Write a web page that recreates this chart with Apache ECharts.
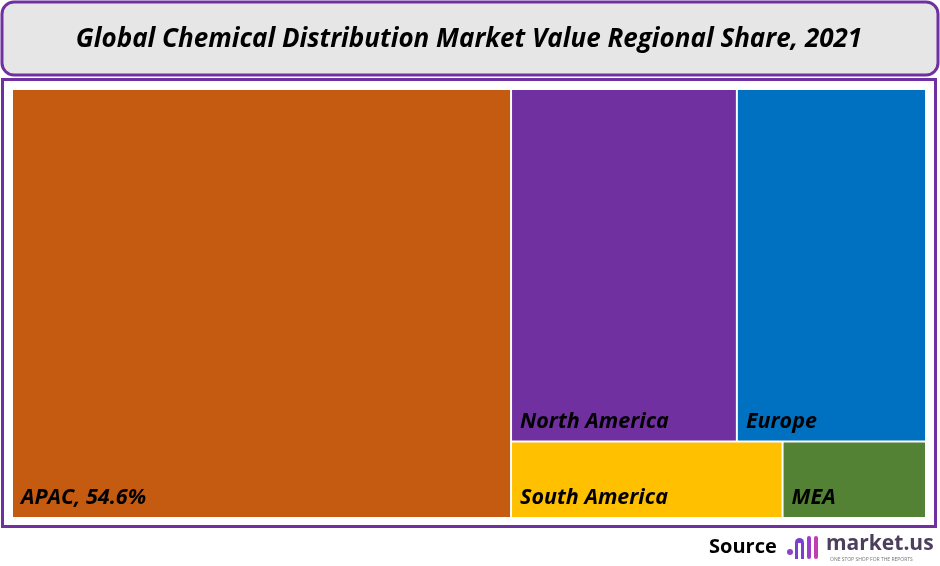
<!DOCTYPE html>
<html><head><meta charset="utf-8">
<script src="https://cdn.jsdelivr.net/npm/echarts@6/dist/echarts.min.js"></script>
<style>html,body{margin:0;padding:0;background:#fff}#c{width:940px;height:566px}</style>
</head><body><div id="c"></div>
<script>
const regions = ['APAC', 'North America', 'Europe', 'South America', 'MEA'];
const shares = [54.6, 20.3, 17.0, 5.3, 2.8];
const colors = ['#C55A11', '#7030A0', '#0070C0', '#FFC000', '#548235'];
const titleText = 'Global Chemical Distribution Market Value Regional Share, 2021';

const chart = echarts.init(document.getElementById('c'), null, {renderer: 'canvas'});
const data = regions.map((r, i) => ({
  name: r, value: shares[i],
  itemStyle: {color: colors[i]},
  label: {formatter: i === 0 ? r + ', ' + shares[i] + '%' : r}
}));
chart.setOption({
  animation: false,
  graphic: [
    {type: 'rect', z: 0, shape: {x: 2, y: 2, width: 936, height: 73, r: 12},
     style: {fill: '#E7E6E6', stroke: '#7030A0', lineWidth: 3}},
    {type: 'text', z: 1, x: 469, y: 40, style: {text: titleText, fill: '#000',
     font: 'italic bold 26px "Open Sans"', textAlign: 'center', textVerticalAlign: 'middle'}},
    {type: 'rect', z: 0, shape: {x: 2.5, y: 79.5, width: 933, height: 447},
     style: {fill: '#fff', stroke: '#7030A0', lineWidth: 3}},
    {type: 'text', z: 1, x: 709, y: 547, style: {text: 'Source', fill: '#000',
     font: 'bold 20px "Open Sans"', textVerticalAlign: 'middle'}},
    {type: 'circle', z: 1, shape: {cx: 790, cy: 552, r: 3}, style: {fill: '#8E44C8'}},
    {type: 'rect', z: 1, shape: {x: 795, y: 538, width: 9, height: 21, r: [5,5,0,0]}, style: {fill: '#7B3FD0'}},
    {type: 'rect', z: 1, shape: {x: 798, y: 543, width: 3, height: 16}, style: {fill: '#fff'}},
    {type: 'rect', z: 1, shape: {x: 807, y: 536, width: 4, height: 23, r: 2}, style: {fill: '#9B3FC8'}},
    {type: 'rect', z: 1, shape: {x: 814, y: 536, width: 4, height: 23, r: 2}, style: {fill: '#C03FB0'}},
    {type: 'text', z: 1, x: 826, y: 544, style: {text: 'market.us', fill: '#4B3F5C',
     font: 'bold 21px "Open Sans"', textVerticalAlign: 'middle'}},
    {type: 'text', z: 1, x: 830, y: 560, style: {text: 'ONE STOP SHOP FOR THE REPORTS', fill: '#777',
     font: '5px "Open Sans"', textVerticalAlign: 'middle'}}
  ],
  series: [{
    type: 'treemap',
    left: 13, top: 90, width: 912, height: 427,
    roam: false, nodeClick: false,
    breadcrumb: {show: false},
    squareRatio: 0.5 * (1 + Math.sqrt(5)),
    itemStyle: {borderWidth: 0, gapWidth: 2, borderColor: '#fff'},
    levels: [{itemStyle: {borderWidth: 0, gapWidth: 2, borderColor: '#fff'}}],
    label: {show: true, position: 'insideBottomLeft', distance: 0, padding: [0, 0, 8, 8],
      color: '#000', fontSize: 21.5, fontWeight: 'bold', fontStyle: 'italic', fontFamily: 'Open Sans'},
    upperLabel: {show: false},
    data: data
  }]
});
</script></body></html>
